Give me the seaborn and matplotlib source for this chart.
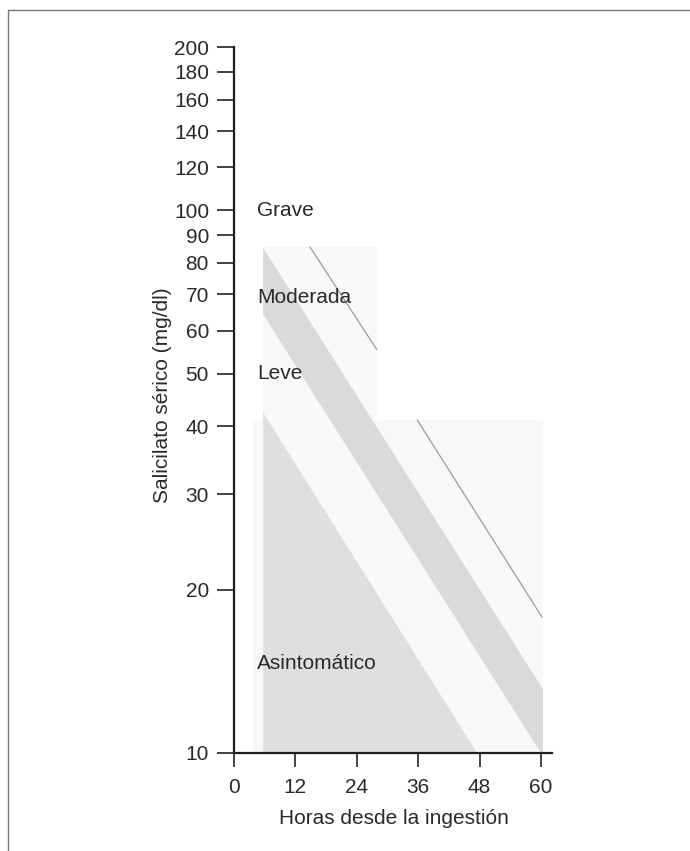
import matplotlib
matplotlib.use("Agg")
import matplotlib.pyplot as plt
from matplotlib.lines import Line2D
import seaborn as sns
import pandas as pd

# Done nomogram for salicylate poisoning
x_ticks = [0, 12, 24, 36, 48, 60]
y_ticks = [10, 20, 30, 40, 50, 60, 70, 80, 90, 100, 120, 140, 160, 180, 200]

# Faint screened panels behind the zones (hours, mg/dl)
panel_upper_hours = [5.7, 27.9]
panel_upper_levels = [41.1, 85.6]
panel_lower_hours = [3.7, 60.4]
panel_lower_levels = [10, 41.1]

# Asymptomatic zone (lower-left triangle)
asym_hours = [5.7, 47.5, 5.7]
asym_levels = [42.4, 10.0, 10.0]

# Moderate zone (diagonal band)
mod_hours = [5.7, 60.4, 60.4, 60.0, 5.7]
mod_levels = [85.3, 13.1, 10.0, 10.0, 64.3]

# Severe boundary line, printed in two pieces
severe_hours = [14.85, 27.9, 35.8, 60.2]
severe_levels = [85.6, 55.4, 41.1, 17.8]
severe_piece = ["a", "a", "b", "b"]

zone_names = ["Grave", "Moderada", "Leve", "Asintomático"]
zone_levels = [100, 69, 50, 14.6]

sns.set_theme(style="ticks")
plt.rcParams["font.family"] = ["Liberation Sans", "DejaVu Sans"]

text_color = "#2a2a2a"
fig = plt.figure(figsize=(6.9, 8.51), dpi=100)
ax = fig.add_axes([234 / 690, 98 / 851, 318 / 690, 706 / 851])
ax.set_yscale("log")
ax.set_xlim(0, 62.15)
ax.set_ylim(10, 200)

# background panels
ax.fill([panel_upper_hours[0], panel_upper_hours[1], panel_upper_hours[1], panel_upper_hours[0]],
        [panel_upper_levels[0], panel_upper_levels[0], panel_upper_levels[1], panel_upper_levels[1]],
        color="#f8f8f8", lw=0, zorder=1)
ax.fill([panel_lower_hours[0], panel_lower_hours[1], panel_lower_hours[1], panel_lower_hours[0]],
        [panel_lower_levels[0], panel_lower_levels[0], panel_lower_levels[1], panel_lower_levels[1]],
        color="#f8f8f8", lw=0, zorder=1)

# zones
ax.fill(asym_hours, asym_levels, color="#dfdfdf", lw=0, zorder=2)
ax.fill(mod_hours, mod_levels, color="#dadada", lw=0, zorder=2)

severe = pd.DataFrame({"hours": severe_hours, "level": severe_levels, "piece": severe_piece})
sns.lineplot(data=severe, x="hours", y="level", units="piece", estimator=None,
             color="#9a9a9a", lw=0.9, ax=ax, zorder=3, legend=False)

for name, level in zip(zone_names, zone_levels):
    ax.text(4.5, level, name, fontsize=15, color=text_color, va="center", ha="left", zorder=4)

ax.set_xticks(x_ticks)
ax.set_xticklabels([str(v) for v in x_ticks])
ax.set_yticks(y_ticks)
ax.set_yticklabels([str(v) for v in y_ticks])
ax.yaxis.set_minor_locator(matplotlib.ticker.NullLocator())
ax.tick_params(axis="both", which="major", labelsize=15, colors="#222222",
               labelcolor=text_color, width=1.2)
ax.tick_params(axis="y", length=12, pad=6)
ax.tick_params(axis="x", length=10, pad=8)
ax.set_xlabel("")
ax.set_ylabel("")

for side in ["top", "right"]:
    ax.spines[side].set_visible(False)
for side in ["left", "bottom"]:
    ax.spines[side].set_linewidth(1.6)
    ax.spines[side].set_color("#1e1e1e")

fig.text(394 / 690, 1 - 818 / 851, "Horas desde la ingestión", fontsize=15,
         color=text_color, ha="center", va="center")
fig.text(162 / 690, 1 - 395 / 851, "Salicilato sérico (mg/dl)", fontsize=15,
         color=text_color, ha="center", va="center", rotation=90)

# page frame
fig.add_artist(Line2D([8 / 690, 1.0], [1 - 10 / 851, 1 - 10 / 851],
                      transform=fig.transFigure, color="#777777", lw=1.0))
fig.add_artist(Line2D([8 / 690, 8 / 690], [0, 1 - 10 / 851],
                      transform=fig.transFigure, color="#777777", lw=1.0))

fig.savefig("out.png", dpi=100)
